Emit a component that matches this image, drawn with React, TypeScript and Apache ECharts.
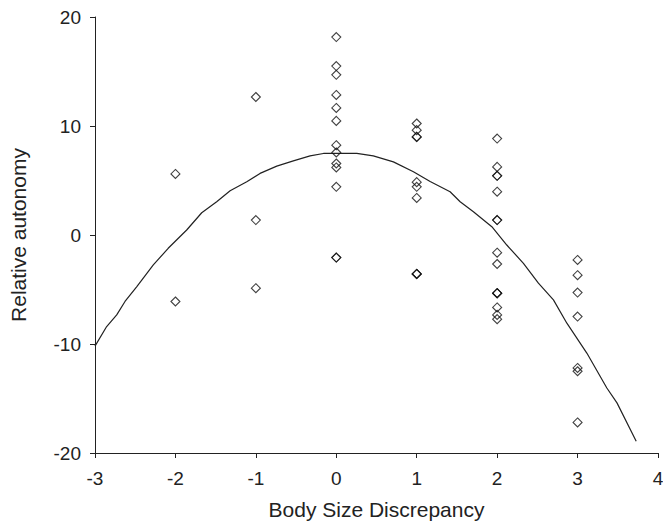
import React, { useEffect, useRef } from "react";
import * as echarts from "echarts";

// Scatter observations grouped by Body Size Discrepancy value
const xNeg2 = [5.6, -6.1];
const xNeg1 = [12.66, 1.37, -4.88];
const x0 = [18.16, 15.5, 14.7, 12.85, 11.66, 10.47, 8.24, 7.57, 6.56, 6.2, 4.42, -2.07, -2.07];
const x1 = [10.23, 9.62, 9.0, 9.0, 4.85, 4.42, 3.4, -3.57, -3.57, -3.57];
const x2 = [8.85, 6.25, 5.43, 5.43, 3.97, 1.37, 1.37, -1.62, -2.66, -5.34, -5.34, -5.34, -6.65, -7.33, -7.72];
const x3 = [-2.29, -3.69, -5.28, -7.48, -12.2, -12.5, -17.2];

const groupX = [-2, -1, 0, 1, 2, 3];
const groupValues = [xNeg2, xNeg1, x0, x1, x2, x3];

// Fitted curve
const curveX = [-3, -2.855, -2.73, -2.627, -2.48, -2.275, -2.09, -1.86, -1.673, -1.487, -1.32, -1.113, -0.948, -0.74, -0.534, -0.326, -0.16, 0.255, 0.46, 0.71, 0.959, 1.167, 1.415, 1.54, 1.705, 1.934, 2.12, 2.327, 2.513, 2.7, 2.867, 3.115, 3.364, 3.49, 3.729];
const curveY = [-10.2, -8.4, -7.33, -6.1, -4.73, -2.75, -1.22, 0.46, 2.04, 3.05, 4.06, 4.88, 5.65, 6.32, 6.8, 7.26, 7.48, 7.48, 7.26, 6.71, 5.8, 4.9, 3.97, 3.05, 2.13, 0.76, -0.92, -2.6, -4.42, -5.95, -8.09, -10.83, -14.04, -15.4, -18.93];

const xTitle = "Body Size Discrepancy";
const yTitle = "Relative autonomy";

export default function App() {
  const ref = useRef<HTMLDivElement>(null);
  useEffect(() => {
    if (!ref.current) return;
    const chart = echarts.init(ref.current, null, { renderer: "svg" });
    const scatterData: number[][] = [];
    groupX.forEach((gx, i) => {
      groupValues[i].forEach((v) => scatterData.push([gx, v]));
    });
    const curveData = curveX.map((cx, i) => [cx, curveY[i]]);
    const font = "Liberation Sans, Arial, sans-serif";
    chart.setOption({
      animation: false,
      backgroundColor: "#fff",
      grid: { left: 95, right: 5, top: 17, bottom: 69, containLabel: false, outerBoundsMode: "none" },
      xAxis: {
        type: "value",
        min: -3,
        max: 4,
        interval: 1,
        name: xTitle,
        nameLocation: "middle",
        nameGap: 46,
        nameTextStyle: { fontFamily: font, fontSize: 21, color: "#222" },
        axisLine: { show: true, onZero: false, lineStyle: { color: "#222", width: 1 } },
        axisTick: { show: true, inside: false, length: 5, lineStyle: { color: "#222" } },
        axisLabel: { fontFamily: font, fontSize: 19, color: "#222", margin: 16 },
        splitLine: { show: false },
      },
      yAxis: {
        type: "value",
        min: -20,
        max: 20,
        interval: 10,
        name: yTitle,
        nameLocation: "middle",
        nameGap: 66,
        nameRotate: 90,
        nameTextStyle: { fontFamily: font, fontSize: 21, color: "#222" },
        axisLine: { show: true, onZero: false, lineStyle: { color: "#222", width: 1 } },
        axisTick: { show: true, inside: false, length: 5, lineStyle: { color: "#222" } },
        axisLabel: { fontFamily: font, fontSize: 19, color: "#222", margin: 14 },
        splitLine: { show: false },
      },
      series: [
        {
          type: "line",
          data: curveData,
          showSymbol: false,
          symbol: "none",
          smooth: false,
          lineStyle: { color: "#222", width: 1.2 },
          z: 2,
        },
        {
          type: "scatter",
          data: scatterData,
          symbol: "diamond",
          symbolSize: [9, 9],
          itemStyle: { color: "rgba(255,255,255,0)", borderColor: "#111", borderWidth: 1.1 },
          z: 3,
        },
      ],
    });
    return () => chart.dispose();
  }, []);
  return (
    <div
      ref={ref}
      style={{ position: "fixed", left: 0, top: 0, width: 663, height: 522, background: "#fff" }}
    />
  );
}
